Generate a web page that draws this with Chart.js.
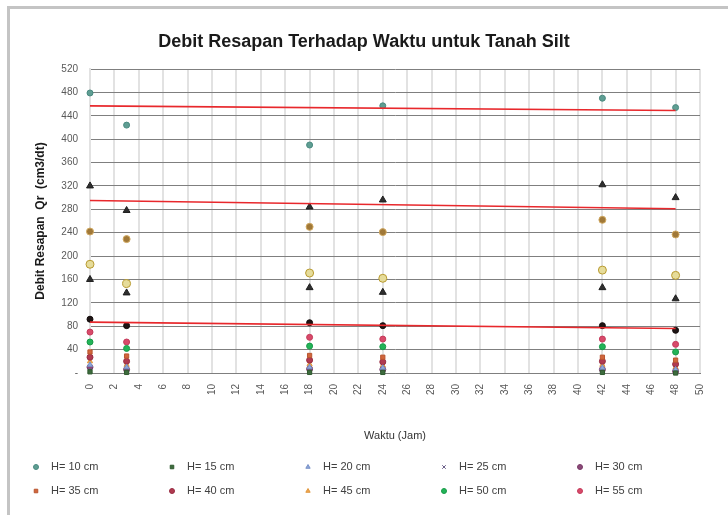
<!DOCTYPE html>
<html><head><meta charset="utf-8">
<script src="https://cdn.jsdelivr.net/npm/chart.js@4.4.1/dist/chart.umd.min.js"></script>
<style>
html,body{margin:0;padding:0;background:#fff;}
#wrap{position:relative;width:728px;height:515px;overflow:hidden;}
#frame{position:absolute;left:7px;top:6px;width:740px;height:530px;border-left:3px solid #c4c4c4;border-top:3px solid #c4c4c4;}
canvas{position:absolute;left:0;top:0;}
</style></head><body>
<div id="wrap"><div id="frame"></div><canvas id="c" width="728" height="515"></canvas></div>
<script>
// ---- data ----
const times = [0, 3, 18, 24, 42, 48];
const legendNames = ['H= 10 cm','H= 15 cm','H= 20 cm','H= 25 cm','H= 30 cm','H= 35 cm','H= 40 cm','H= 45 cm','H= 50 cm','H= 55 cm'];
const h10 = [479, 424, 390, 457, 470, 454];
const h15 = [2, 1, 1, 1, 1, 0];
const h20 = [14, 10, 10, 9, 9, 6];
const h25 = [5, 3, 4, 3, 3, 1];
const h30 = [10, 6, 7, 6, 6, 3];
const h35 = [36, 29, 30, 27, 27, 22];
const h40 = [27, 20, 22, 19, 20, 15];
const h45 = [20, 14, 15, 13, 14, 10];
const h50 = [53, 42, 46, 45, 45, 36];
const h55 = [70, 53, 61, 58, 58, 49];
// further (unlabelled) series
const extraTriHigh = [320, 278, 284, 296, 322, 300];
const extraCircBrown = [242, 229, 250, 241, 262, 237];
const extraCircYellow = [186, 153, 171, 162, 176, 167];
const extraTriLow = [160, 137, 146, 138, 146, 127];
const extraDotDark = [92, 81, 86, 81, 81, 73];
// linear trend lines (start / end values)
const trendX = [0, 48];
const trendHigh = [457, 449];
const trendMid = [295, 281];
const trendLow = [87, 76];
const yTicks = [0, 40, 80, 120, 160, 200, 240, 280, 320, 360, 400, 440, 480, 520];

// ---- build ----
const pts = (vals) => times.map((t, i) => ({x: t, y: vals[i]}));
const line = (vals) => trendX.map((t, i) => ({x: t, y: vals[i]}));

const legendSeries = [h10, h15, h20, h25, h30, h35, h40, h45, h50, h55];
const legendStyles = [
  {c:'#5f9e93', b:'#4a8a80', s:'circle', r:3},
  {c:'#3d6b3d', b:'#2f5a2f', s:'rect', r:3},
  {c:'#8fa6d6', b:'#7790c8', s:'triangle', r:3},
  {c:'#7a6e98', b:'#6a5e88', s:'crossRot', r:3},
  {c:'#8a4a78', b:'#7a3a68', s:'circle', r:3},
  {c:'#d2663c', b:'#b8552f', s:'rect', r:3},
  {c:'#b03a50', b:'#982c42', s:'circle', r:3},
  {c:'#f0a850', b:'#e0963c', s:'triangle', r:3},
  {c:'#22b458', b:'#1a9a48', s:'circle', r:3},
  {c:'#d84a6a', b:'#c43a5a', s:'circle', r:3}
];
const extraSeries = [extraTriHigh, extraCircBrown, extraCircYellow, extraTriLow, extraDotDark];
const extraStyles = [
  {c:'#2e2e2e', b:'#1e1e1e', s:'triangle', r:4},
  {c:'#a07838', b:'#d0a860', s:'circle', r:3.5},
  {c:'#e6dc9a', b:'#b89a30', s:'circle', r:4},
  {c:'#2e2e2e', b:'#1e1e1e', s:'triangle', r:4},
  {c:'#1e1414', b:'#120a0a', s:'circle', r:3}
];

const datasets = [];
extraSeries.forEach((v, i) => {
  const st = extraStyles[i];
  datasets.push({label: 'seri ' + (i + 1), data: pts(v), backgroundColor: st.c, borderColor: st.b,
    pointStyle: st.s, pointRadius: st.r, borderWidth: 1, showLine: false, order: 2, clip: false});
});
legendSeries.forEach((v, i) => {
  const st = legendStyles[i];
  datasets.push({label: legendNames[i], inLegend: true, data: pts(v), backgroundColor: st.c, borderColor: st.b,
    pointStyle: st.s, pointRadius: st.r, borderWidth: 1, showLine: false, order: 1, clip: false});
});
[trendHigh, trendMid, trendLow].forEach((v, i) => {
  datasets.push({label: 'trend ' + (i + 1), data: line(v), showLine: true, pointRadius: 0,
    borderColor: '#e8282c', borderWidth: 1.6, backgroundColor: '#e8282c', order: 0});
});

const gridLegend = {
  id: 'gridLegend',
  afterDraw(chart) {
    const ctx = chart.ctx;
    const items = chart.data.datasets.filter(d => d.inLegend);
    const x0 = 36, dx = 136, y0 = 467, dy = 24;
    ctx.save();
    ctx.font = '11px "Liberation Sans", Arial, sans-serif';
    ctx.textBaseline = 'middle';
    ctx.textAlign = 'left';
    items.forEach((d, k) => {
      const x = x0 + (k % 5) * dx, y = y0 + Math.floor(k / 5) * dy;
      ctx.fillStyle = d.backgroundColor;
      ctx.strokeStyle = d.borderColor;
      ctx.lineWidth = 1;
      Chart.helpers.drawPoint(ctx, {pointStyle: d.pointStyle, radius: 2.5, rotation: 0, borderWidth: 1}, x, y);
      ctx.fillStyle = '#404040';
      ctx.fillText(d.label, x + 15, y);
    });
    ctx.restore();
  }
};

new Chart(document.getElementById('c'), {
  type: 'scatter',
  data: {datasets},
  options: {
    responsive: false,
    animation: false,
    layout: {padding: {left: 28, right: 28, top: 0, bottom: 62}},
    plugins: {
      legend: {display: false},
      tooltip: {enabled: false},
      title: {display: true, text: 'Debit Resapan Terhadap Waktu untuk Tanah Silt', color: '#1a1a1a',
        font: {family: '"Liberation Sans", Arial, sans-serif', size: 18, weight: 'bold'},
        padding: {top: 31, bottom: 16.4}}
    },
    scales: {
      x: {
        type: 'linear', min: 0, max: 50,
        afterFit(s) { s.height = 80; },
        ticks: {stepSize: 2, autoSkip: false, minRotation: 90, maxRotation: 90, padding: 11,
          color: '#595959', font: {family: '"Liberation Sans", Arial, sans-serif', size: 10}},
        grid: {color: '#e2e2e2', lineWidth: 2, drawTicks: false},
        border: {color: '#7f7f7f', width: 1},
        title: {display: true, text: 'Waktu (Jam)', color: '#333', padding: {top: 0, bottom: 10},
          font: {family: '"Liberation Sans", Arial, sans-serif', size: 11}}
      },
      y: {
        type: 'linear', min: 0, max: 520,
        afterFit(s) { s.width = 62; },
        afterBuildTicks(s) { s.ticks = yTicks.map(v => ({value: v})); },
        ticks: {padding: 12, color: '#595959', callback: v => v === 0 ? '-' : String(v),
          font: {family: '"Liberation Sans", Arial, sans-serif', size: 10}},
        grid: {color: '#7f7f7f', lineWidth: 1, drawTicks: false},
        border: {color: '#e2e2e2', width: 2},
        title: {display: true, text: 'Debit Resapan  Qr  (cm3/dt)', color: '#1a1a1a', padding: {top: 5, bottom: 0},
          font: {family: '"Liberation Sans", Arial, sans-serif', size: 12, weight: 'bold'}}
      }
    }
  },
  plugins: [gridLegend]
});
</script>
</body></html>
